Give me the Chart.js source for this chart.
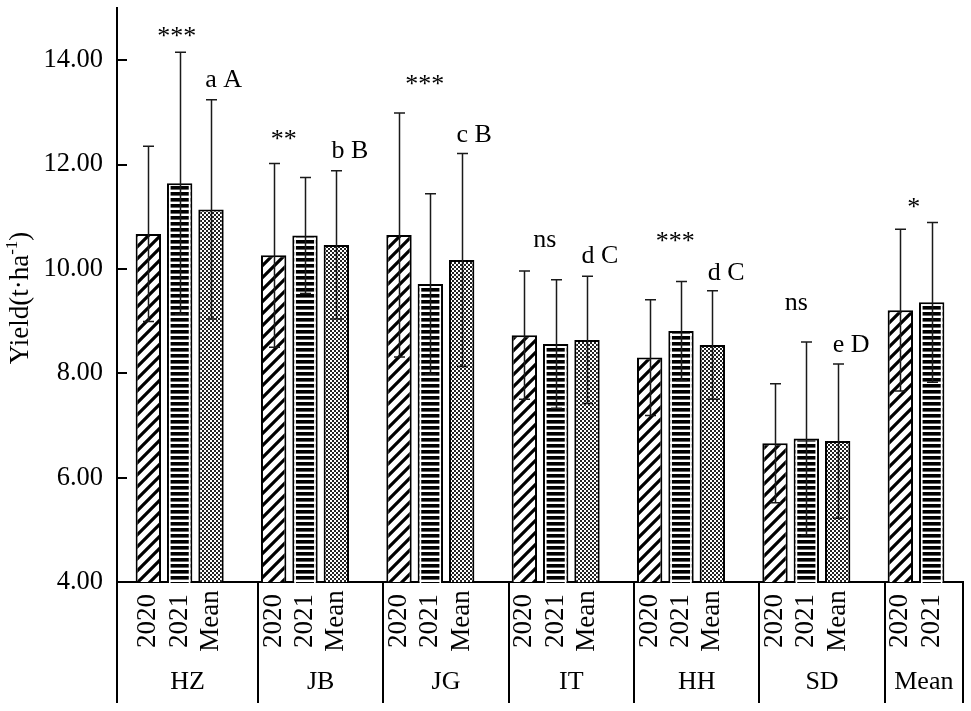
<!DOCTYPE html>
<html>
<head>
<meta charset="utf-8">
<script src="https://cdn.jsdelivr.net/npm/chart.js@4.4.1/dist/chart.umd.min.js"></script>
<style>
  html, body { margin: 0; padding: 0; background: #fff; }
  #wrap { width: 971px; height: 711px; }
</style>
</head>
<body>
<div id="wrap"><canvas id="c" width="971" height="711" style="width:971px;height:711px"></canvas></div>
<script>
// ---------------- data ----------------
const groups = ['HZ', 'JB', 'JG', 'IT', 'HH', 'SD', 'Mean'];
const seriesNames = ['2020', '2021', 'Mean'];
const y2020  = [10.67, 10.26, 10.65, 8.73, 8.30, 6.66, 9.21];
const sd2020 = [1.68, 1.76, 2.34, 1.23, 1.11, 1.14, 1.55];
const y2021  = [11.64, 10.64, 9.71, 8.56, 8.81, 6.75, 9.36];
const sd2021 = [2.51, 1.11, 1.73, 1.23, 0.95, 1.85, 1.53];
const yMean  = [11.14, 10.46, 10.17, 8.64, 8.54, 6.70, null];
const sdMean = [2.10, 1.42, 2.04, 1.22, 1.04, 1.48, null];
const yTicks = [4, 6, 8, 10, 12, 14];
const yMin = 4, yMax = 15;
const sigLabels = ['***', '**', '***', 'ns', '***', 'ns', '*'];
const sigPosX = [0.91, 4.32, 8.82, 12.65, 16.82, 20.68, 24.43];   // bar-index units
const sigPosY = [14.31, 12.33, 13.39, 10.42, 10.38, 9.22, 11.03]; // baseline, data units
const letterLabels = ['a A', 'b B', 'c B', 'd C', 'd C', 'e D'];
const letterPosX = [2.40, 6.43, 10.40, 14.41, 18.44, 22.43];
const letterPosY = [13.48, 12.12, 12.43, 10.11, 9.79, 8.41];
const yTitleMain = 'Yield(t\u00B7ha';
const yTitleSup = '-1';
const yTitleEnd = ')';

// ---------------- slots ----------------
const SLOT_PER_GROUP = 4;
const nSlots = 1 + SLOT_PER_GROUP * (groups.length - 1) + 2 + 1; // 28
const slotLabels = new Array(nSlots).fill('');
const seriesY = [y2020, y2021, yMean];
const seriesSD = [sd2020, sd2021, sdMean];
function slotIndex(gi, si) { return 1 + SLOT_PER_GROUP * gi + si; }
const dsData = seriesY.map(() => new Array(nSlots).fill(null));
const dsErr = seriesY.map(() => new Array(nSlots).fill(null));
groups.forEach((g, gi) => {
  seriesNames.forEach((s, si) => {
    const v = seriesY[si][gi];
    if (v === null || v === undefined) return;
    const k = slotIndex(gi, si);
    slotLabels[k] = g + ' ' + s;
    dsData[si][k] = v;
    dsErr[si][k] = seriesSD[si][gi];
  });
});

// ---------------- patterns ----------------
function makePattern(kind) {
  const c = document.createElement('canvas');
  const x = c.getContext('2d');
  if (kind === 'diag') {
    const s = 12; c.width = s; c.height = s;
    x.fillStyle = '#fff'; x.fillRect(0, 0, s, s);
    x.strokeStyle = '#000'; x.lineWidth = 3.2; x.lineCap = 'square';
    x.beginPath();
    x.moveTo(-3, s + 3); x.lineTo(s + 3, -3);
    x.moveTo(-3, 3); x.lineTo(3, -3);
    x.moveTo(s - 3, s + 3); x.lineTo(s + 3, s - 3);
    x.stroke();
  } else if (kind === 'horiz') {
    c.width = 4; c.height = 6;
    x.fillStyle = '#fff'; x.fillRect(0, 0, 4, 6);
    x.fillStyle = '#000'; x.fillRect(0, 0, 4, 3.6);
  } else {
    c.width = 4; c.height = 4;
    x.fillStyle = '#fff'; x.fillRect(0, 0, 4, 4);
    x.fillStyle = '#222';
    x.fillRect(0, 0, 2, 2);
    x.fillRect(2, 2, 2, 2);
  }
  return x.createPattern(c, 'repeat');
}
const ctx = document.getElementById('c').getContext('2d');
const fills = [makePattern('diag'), makePattern('horiz'), makePattern('dots')];

const FONT = 'Liberation Serif, Times New Roman, serif';

// ---------------- plugins ----------------
const errorBars = {
  id: 'errorBars',
  afterDatasetsDraw(chart) {
    const c = chart.ctx, ys = chart.scales.y;
    c.save();
    // white inner margin of the striped (2021) bars
    const m1 = chart.getDatasetMeta(1);
    c.fillStyle = '#fff';
    m1.data.forEach((bar, j) => {
      if (chart.data.datasets[1].data[j] == null) return;
      const l = bar.x - bar.width / 2, r = bar.x + bar.width / 2;
      const h = bar.base - bar.y - 2;
      c.fillRect(l + 2, bar.y + 2, 1.6, h);
      c.fillRect(r - 3.6, bar.y + 2, 1.6, h);
    });
    c.strokeStyle = '#1a1a1a';
    c.lineWidth = 1.5;
    chart.data.datasets.forEach((ds, di) => {
      const meta = chart.getDatasetMeta(di);
      meta.data.forEach((bar, j) => {
        const v = ds.data[j];
        if (v === null || v === undefined) return;
        const e = ds.errors[j];
        const x = Math.round(bar.x) + 0.5;
        const yt = ys.getPixelForValue(v + e);
        const yb = ys.getPixelForValue(v - e);
        const cap = 5.5;
        c.beginPath();
        c.moveTo(x, yt); c.lineTo(x, yb);
        c.moveTo(x - cap, yt); c.lineTo(x + cap, yt);
        c.moveTo(x - cap, yb); c.lineTo(x + cap, yb);
        c.stroke();
      });
    });
    c.restore();
  }
};

const decorations = {
  id: 'decorations',
  afterDraw(chart) {
    const c = chart.ctx, xs = chart.scales.x, ys = chart.scales.y;
    const area = chart.chartArea;
    const bottom = chart.height - 8;
    c.save();
    c.strokeStyle = '#000';
    c.fillStyle = '#000';
    c.lineWidth = 2;
    // inward y ticks
    c.beginPath();
    yTicks.forEach(v => {
      const y = Math.round(ys.getPixelForValue(v));
      c.moveTo(area.left, y); c.lineTo(area.left + 10, y);
    });
    c.stroke();
    // group boundaries below the axis
    const bounds = [xs.left];
    for (let gi = 1; gi < groups.length; gi++) {
      bounds.push(xs.getPixelForValue(slotIndex(gi, 0) - 0.5));
    }
    bounds.push(xs.right);
    c.beginPath();
    bounds.forEach(bx => {
      const x = Math.round(bx);
      c.moveTo(x, area.bottom - 1); c.lineTo(x, bottom);
    });
    c.stroke();
    // sub labels (rotated)
    c.font = '27px ' + FONT;
    c.textAlign = 'center';
    c.textBaseline = 'middle';
    groups.forEach((g, gi) => {
      seriesNames.forEach((s, si) => {
        const v = seriesY[si][gi];
        if (v === null || v === undefined) return;
        const x = xs.getPixelForValue(slotIndex(gi, si));
        c.save();
        c.translate(x, area.bottom + 39);
        c.rotate(-Math.PI / 2);
        c.fillText(s, 0, 0);
        c.restore();
      });
    });
    // group labels
    c.font = '26px ' + FONT;
    groups.forEach((g, gi) => {
      const cx = (bounds[gi] + bounds[gi + 1]) / 2;
      c.fillText(g, cx, area.bottom + 100);
    });
    // annotations
    c.textBaseline = 'alphabetic';
    c.font = '26px ' + FONT;
    sigLabels.forEach((t, i) => {
      c.fillText(t, xs.getPixelForValue(sigPosX[i] + 1), ys.getPixelForValue(sigPosY[i]));
    });
    letterLabels.forEach((t, i) => {
      c.fillText(t, xs.getPixelForValue(letterPosX[i] + 1), ys.getPixelForValue(letterPosY[i]));
    });
    // y axis title with superscript
    const mainF = '27px ' + FONT, supF = '17px ' + FONT;
    c.font = mainF; const w1 = c.measureText(yTitleMain).width; const w3 = c.measureText(yTitleEnd).width;
    c.font = supF; const w2 = c.measureText(yTitleSup).width;
    const total = w1 + w2 + w3;
    c.translate(28, (area.top + area.bottom) / 2 + 3);
    c.rotate(-Math.PI / 2);
    c.textAlign = 'left';
    let sx = -total / 2;
    c.font = mainF; c.fillText(yTitleMain, sx, 0); sx += w1;
    c.font = supF; c.fillText(yTitleSup, sx, -11); sx += w2;
    c.font = mainF; c.fillText(yTitleEnd, sx, 0);
    c.restore();
  }
};

function zeroPad(s) { s.paddingTop = 0; s.paddingBottom = 0; s.paddingLeft = 0; s.paddingRight = 0; }

// ---------------- chart ----------------
new Chart(ctx, {
  type: 'bar',
  data: {
    labels: slotLabels,
    datasets: seriesNames.map((s, si) => ({
      label: s,
      data: dsData[si],
      errors: dsErr[si],
      backgroundColor: fills[si],
      borderColor: '#000',
      borderWidth: 2,
      grouped: false,
      categoryPercentage: 1,
      barPercentage: 0.81
    }))
  },
  options: {
    responsive: false,
    animation: false,
    layout: { padding: { left: 0, right: 8, top: 8, bottom: 0 } },
    plugins: { legend: { display: false }, tooltip: { enabled: false } },
    scales: {
      x: {
        type: 'category',
        offset: false,
        grid: { display: false, drawTicks: false },
        ticks: { display: false },
        border: { display: true, color: '#000', width: 2 },
        afterFit(s) { s.height = 129; zeroPad(s); }
      },
      y: {
        min: yMin,
        max: yMax,
        afterBuildTicks(s) { s.ticks = yTicks.map(v => ({ value: v })); },
        ticks: {
          callback: v => Number(v).toFixed(2),
          font: { family: FONT, size: 26.5 },
          color: '#000',
          padding: 14
        },
        grid: { display: false, drawTicks: false },
        border: { display: true, color: '#000', width: 2 },
        afterFit(s) { s.width = 117; zeroPad(s); }
      }
    }
  },
  plugins: [errorBars, decorations]
});
</script>
</body>
</html>
